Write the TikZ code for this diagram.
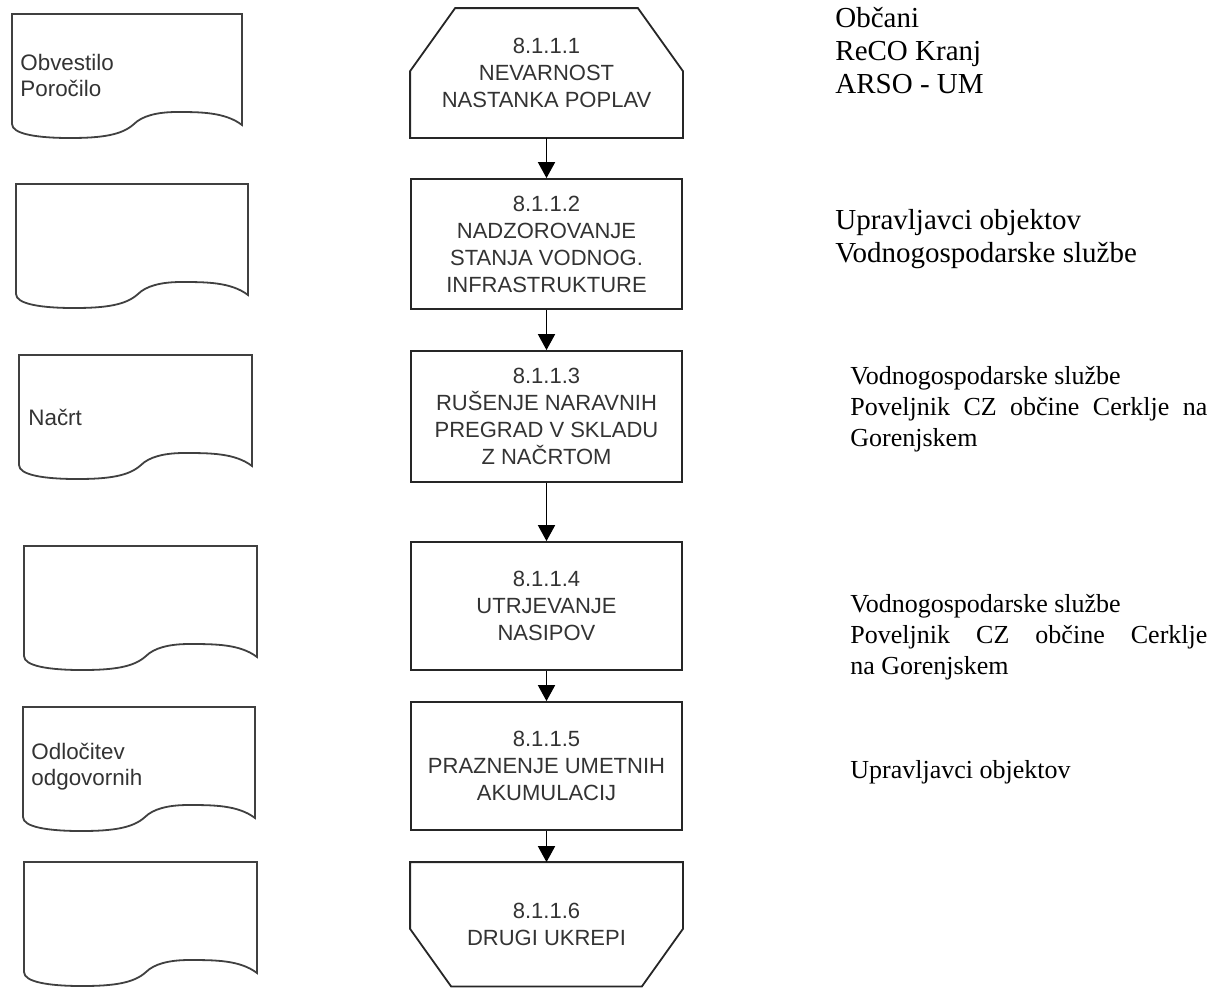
\documentclass[tikz,border=0pt]{standalone}
\usepackage{fontspec}
\setmainfont{Liberation Serif}
\setsansfont{Liberation Sans}
\usetikzlibrary{arrows.meta}

% document sheet with wavy lower edge, (x,y) = top left corner, #3 = width
\newcommand{\docsheet}[3]{%
  \begin{scope}[shift={(#1,#2)}]
    \draw[sheet] (0,0) -- (#3,0) -- (#3,111)
      .. controls (#3-17,98) and (#3-42,98) .. (165,98)
      .. controls (145,98) and (130,102) .. (122,110)
      .. controls (110,121) and (90,124) .. (58,124)
      .. controls (25,124) and (0,120) .. (0,110) -- cycle;
  \end{scope}}

\begin{document}
\begin{tikzpicture}[x=0.5pt,y=-0.5pt,
    stepbox/.style={draw=black!85, line width=0.9pt, minimum width=135.5pt,
      inner sep=0pt, align=center, text=black!80,
      font=\sffamily\fontsize{11}{13.5}\selectfont},
    boxline/.style={draw=black!85, line width=0.9pt},
    sheet/.style={draw=black!75, line width=0.9pt},
    sheettext/.style={anchor=west, inner sep=0pt, align=left, text=black!80,
      font=\sffamily\fontsize{11.2}{13}\selectfont},
    actor/.style={anchor=west, inner sep=0pt, align=left,
      font=\fontsize{14.5}{16.5}\selectfont},
    actorpar/.style={anchor=west, inner sep=0pt, align=justify,
      text width=178.5pt, font=\fontsize{13}{15.5}\selectfont},
    flow/.style={draw=black, line width=0.9pt, -{Triangle[width=8.5pt,length=8pt]}}]

  \useasboundingbox (0,0) rectangle (1213,987);

  % documents on the left
  \docsheet{12}{14}{230}
  \docsheet{16}{184}{232}
  \docsheet{19}{355}{233}
  \docsheet{24}{546}{233}
  \docsheet{23}{707}{232}
  \docsheet{24}{862}{233}
  \node[sheettext] (obvestilo) at (20,75) {Obvestilo\\Poročilo};
  \node[sheettext] (nacrt) at (28,417) {Načrt};
  \node[sheettext] (odlocitev) at (31,767) {Odločitev\\odgovornih};

  % steps
  \node[stepbox, draw=none, minimum height=64pt] (s1) at (546.5,73)
    {8.1.1.1\\NEVARNOST\\NASTANKA POPLAV};
  \draw[boxline] (s1.south west) -- ([yshift=-31.5pt]s1.north west)
    -- ([xshift=22.5pt]s1.north west) -- ([xshift=-22.5pt]s1.north east)
    -- ([yshift=-31.5pt]s1.north east) -- (s1.south east) -- cycle;
  \node[stepbox, minimum height=65pt] (s2) at (546.5,244)
    {8.1.1.2\\NADZOROVANJE\\STANJA VODNOG.\\INFRASTRUKTURE};
  \node[stepbox, minimum height=65.5pt] (s3) at (546.5,416.5)
    {8.1.1.3\\RUŠENJE NARAVNIH\\PREGRAD V SKLADU\\Z NAČRTOM};
  \node[stepbox, minimum height=64pt] (s4) at (546.5,606)
    {8.1.1.4\\UTRJEVANJE\\NASIPOV};
  \node[stepbox, minimum height=64pt] (s5) at (546.5,766)
    {8.1.1.5\\PRAZNENJE UMETNIH\\AKUMULACIJ};
  \node[stepbox, draw=none, minimum height=61.25pt] (s6) at (546.5,924.25)
    {8.1.1.6\\DRUGI UKREPI};
  \draw[boxline] (s6.north west) -- ([yshift=28.75pt]s6.south west)
    -- ([xshift=20.5pt]s6.south west) -- ([xshift=-20.5pt]s6.south east)
    -- ([yshift=28.75pt]s6.south east) -- (s6.north east) -- cycle;

  \draw[flow] (s1.south) -- (s2.north);
  \draw[flow] (s2.south) -- (s3.north);
  \draw[flow] (s3.south) -- (s4.north);
  \draw[flow] (s4.south) -- (s5.north);
  \draw[flow] (s5.south) -- (s6.north);

  % responsible parties
  \node[actor] (a1) at (835,51) {Občani\\ReCO Kranj\\ARSO - UM};
  \node[actor] (a2) at (835,239) {Upravljavci objektov\\Vodnogospodarske službe};
  \node[actorpar] (a3) at (850,409)
    {Vodnogospodarske službe\\Poveljnik CZ občine Cerklje na\linebreak Gorenjskem};
  \node[actorpar] (a4) at (850,637.5)
    {Vodnogospodarske službe\\Poveljnik CZ občine Cerklje\linebreak na Gorenjskem};
  \node[actor, font=\fontsize{13}{15.5}\selectfont] (a5) at (850,772) {Upravljavci objektov};
\end{tikzpicture}
\end{document}
